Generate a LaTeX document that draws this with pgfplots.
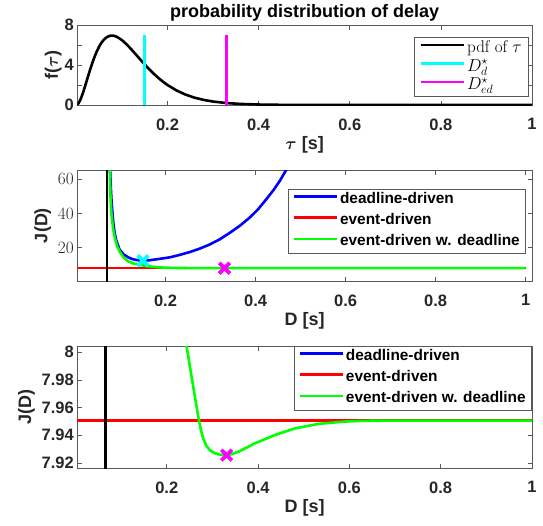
\documentclass[border=0pt]{standalone}
\usepackage{fontspec}
\setsansfont{Liberation Sans}
\usepackage{pgfplots}
\usepackage{pgfplotstable}
\pgfplotsset{compat=1.18}

\definecolor{mBlue}{rgb}{0,0,1}
\definecolor{mRed}{rgb}{1,0,0}
\definecolor{mGreen}{rgb}{0,1,0}
\definecolor{mCyan}{rgb}{0,1,1}
\definecolor{mMag}{rgb}{1,0,1}
\definecolor{mAxis}{rgb}{0.35,0.35,0.35}
\definecolor{mText}{rgb}{0.15,0.15,0.15}

% pdf of the delay
\pgfplotstableread{
D f
0.000 0
0.005 0.185
0.010 0.652
0.015 1.291
0.020 2.019
0.025 2.775
0.030 3.516
0.035 4.209
0.040 4.836
0.045 5.384
0.050 5.848
0.055 6.224
0.060 6.515
0.065 6.727
0.070 6.861
0.075 6.930
0.080 6.937
0.085 6.888
0.090 6.792
0.100 6.489
0.110 6.075
0.120 5.595
0.130 5.082
0.140 4.560
0.150 4.051
0.160 3.567
0.170 3.116
0.180 2.703
0.190 2.331
0.200 1.998
0.220 1.448
0.240 1.032
0.260 0.725
0.280 0.504
0.300 0.346
0.330 0.194
0.360 0.107
0.400 0.047
0.450 0.017
0.500 0.006
0.600 0.001
0.700 0
1.000 0
}\pdftab

% deadline-driven cost
\pgfplotstableread{
D J
0.0762 70
0.0785 55
0.0800 47.5
0.0836 35.5
0.0870 28.5
0.0910 23.8
0.0980 18.8
0.1070 16.0
0.1170 14.3
0.1260 13.3
0.1356 12.7
0.1500 12.3
0.1650 12.6
0.1850 13.3
0.2100 14.3
0.2300 15.6
0.2540 17.4
0.2750 19.3
0.2980 21.8
0.3200 24.8
0.3430 28.7
0.3650 32.8
0.3870 37.6
0.4050 42.3
0.4240 48.4
0.4400 53.8
0.4540 59.2
0.4690 66
0.4800 71
}\ddtab

% event-driven with deadline
\pgfplotstableread{
D J
0.0755 70
0.0778 49.4
0.0800 39.5
0.0835 31
0.0873 25.7
0.0925 20.8
0.0984 17.5
0.1070 14.2
0.1170 11.9
0.1300 10.6
0.1430 9.8
0.1570 9.2
0.1720 8.72
0.1900 8.35
0.2090 8.14
0.2250 8.05
0.2325 8.0265
0.2400 8.0110
0.2475 7.9960
0.2547 7.9815
0.2620 7.9670
0.2694 7.9525
0.2750 7.9435
0.2800 7.9375
0.2870 7.9322
0.2950 7.9291
0.3050 7.9271
0.3150 7.9261
0.3313 7.9257
0.3400 7.9262
0.3570 7.9281
0.3700 7.9303
0.3930 7.9342
0.4370 7.9402
0.4810 7.9450
0.5320 7.9482
0.5900 7.9499
0.6270 7.9504
0.7000 7.9506
0.8000 7.9506
1.0000 7.9506
}\edtab

\pgfplotsset{
  mlab/.style={
    scale only axis, width=454.7pt,
    axis line style={mAxis, line width=0.6pt},
    every tick/.style={mAxis, line width=0.6pt},
    major tick length=4.5pt,
    tick align=inside,
    xtick={0.2,0.4,0.6,0.8,1}, xticklabels={0.2,0.4,0.6,0.8,1},
    xticklabel shift=10pt,
    tick label style={font=\sffamily\bfseries\fontsize{16.5}{18}\selectfont, text=mText},
    label style={font=\sffamily\bfseries\boldmath\fontsize{18}{20}\selectfont, text=mText},
    xlabel style={yshift=1pt},
    legend cell align=left,
    legend image code/.code={\draw[##1, line width=2.6pt, line cap=butt] (0pt,3.5pt) -- (43pt,3.5pt);},
    legend style={draw=mAxis, line width=0.6pt, fill=white, text=black,
                  inner xsep=4pt, inner ysep=3pt, row sep=6.3pt,
                  nodes={fill=none, inner ysep=0pt, text height=11pt, text depth=4pt},
                  font=\sffamily\bfseries\fontsize{15.4}{17}\selectfont},
  },
  crv/.style={line width=2.6pt},
  xmk/.style={only marks, mark=x, mark size=7.5pt, mark options={line width=3.8pt}},
}

\begin{document}
\begin{tikzpicture}
\useasboundingbox (0pt,0pt) rectangle (543pt,-525pt);

% top: probability distribution
\begin{axis}[mlab,
  at={(77.3pt,-25pt)}, anchor=north west, height=80pt,
  xmin=0.002, xmax=1, ymin=0, ymax=8,
  ytick={0,2,4,6,8}, yticklabels={0,,4,,8},
  title={probability distribution of delay},
  every axis title shift=0pt,
  title style={font=\sffamily\bfseries\fontsize{18}{20}\selectfont, text=black,
               at={(0.5,1)}, anchor=base, yshift=8pt},
  xlabel={$\tau$ [s]}, ylabel={f($\tau$)},
  ylabel style={yshift=-4pt},
  legend style={at={(0.9934,0.846)}, anchor=north east,
                font=\fontsize{17}{18}\selectfont, row sep=3.5pt,
                inner xsep=5pt, inner ysep=3.5pt,
                nodes={fill=none, inner ysep=0pt, text height=11.5pt, text depth=3.5pt}},
]
\addplot[crv, black] table[x=D, y=f] {\pdftab};
\addplot[crv, mCyan] coordinates {(0.15,0) (0.15,7)};
\addplot[crv, mMag] coordinates {(0.33,0) (0.33,7)};
\legend{pdf of $\tau$, $D^\star_d$, $D^\star_{ed}$}
\end{axis}

% middle: cost
\begin{axis}[mlab,
  at={(77.3pt,-170pt)}, anchor=north west, height=111pt,
  xmin=0.004, xmax=1.014, ymin=0.4, ymax=65.5,
  ytick={20,40,60},
  xlabel={D [s]}, ylabel={J(D)},
  legend style={at={(0.987,0.829)}, anchor=north east},
]
\addplot[crv, mBlue] table[x=D, y=J] {\ddtab};
\addplot[crv, mRed] coordinates {(0,7.9506) (1,7.9506)};
\addplot[crv, mGreen] table[x=D, y=J] {\edtab};
\addplot[crv, black, forget plot] coordinates {(0.07,-10) (0.07,100)};
\addplot[xmk, mMag, forget plot] coordinates {(0.331,7.93)};
\addplot[xmk, mCyan, forget plot] coordinates {(0.15,12.3)};
\legend{deadline-driven, event-driven, event-driven w. deadline}
\end{axis}

% bottom: zoom of the cost
\begin{axis}[mlab,
  at={(77.3pt,-346pt)}, anchor=north west, height=122pt,
  xmin=0.004, xmax=1, ymin=7.9164, ymax=8.0044,
  restrict y to domain*=7.9:8.02,
  ytick={7.92,7.94,7.96,7.98,8}, yticklabels={7.92,7.94,7.96,7.98,8},
  xlabel={D [s]}, ylabel={J(D)},
  legend style={at={(1,1)}, anchor=north east},
]
\addplot[crv, mBlue] table[x=D, y=J] {\ddtab};
\addplot[crv, mRed] coordinates {(0,7.9506) (1,7.9506)};
\addplot[crv, mGreen] table[x=D, y=J] {\edtab};
\addplot[crv, black, forget plot] coordinates {(0.066,7.9) (0.066,8.01)};
\addplot[xmk, mMag, forget plot] coordinates {(0.331,7.9257)};
\legend{deadline-driven, event-driven, event-driven w. deadline}
\end{axis}
\end{tikzpicture}
\end{document}
